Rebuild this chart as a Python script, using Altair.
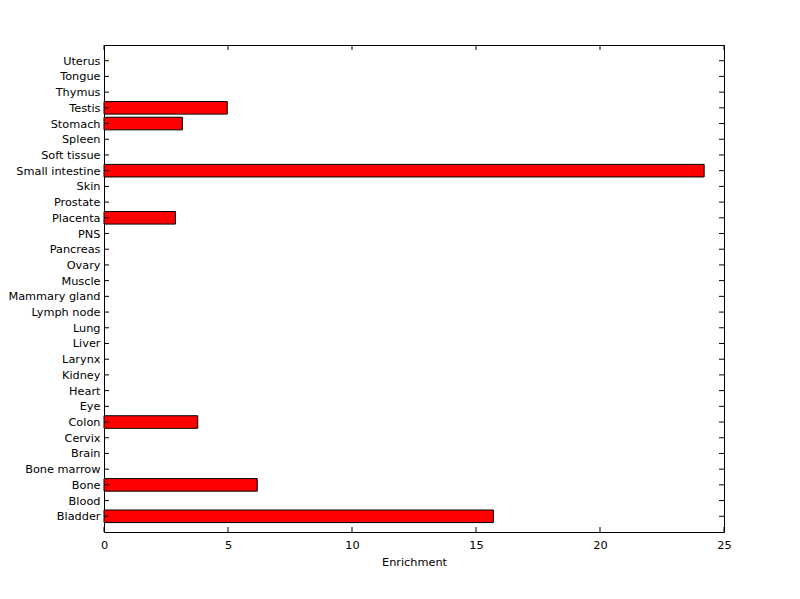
import altair as alt
import pandas as pd

# bottom -> top
tissues = ["Bladder", "Blood", "Bone", "Bone marrow", "Brain", "Cervix", "Colon", "Eye",
           "Heart", "Kidney", "Larynx", "Liver", "Lung", "Lymph node", "Mammary gland",
           "Muscle", "Ovary", "Pancreas", "PNS", "Placenta", "Prostate", "Skin",
           "Small intestine", "Soft tissue", "Spleen", "Stomach", "Testis", "Thymus",
           "Tongue", "Uterus"]
enrichment = [15.7, 0, 6.18, 0, 0, 0, 3.78, 0,
              0, 0, 0, 0, 0, 0, 0,
              0, 0, 0, 0, 2.88, 0, 0,
              24.2, 0, 0, 3.16, 4.97, 0,
              0, 0]
x_ticks = [0, 5, 10, 15, 20, 25]

W, H = 620, 487
FONT = "DejaVu Sans"
FS = 11.3

df = pd.DataFrame({"tissue": tissues, "value": enrichment})
tdf = pd.DataFrame({"t": x_ticks})

order_top_down = list(reversed(tissues))
yscale = alt.Scale(domain=order_top_down, paddingInner=0.2, paddingOuter=0.6)
xscale = alt.Scale(domain=[0, 25], nice=False, zero=True)

yaxis = alt.Axis(ticks=False, domain=False, grid=False, title=None,
                 labelFont=FONT, labelFontSize=FS, labelColor="black",
                 labelPadding=4, labelOffset=1)
xaxis = alt.Axis(values=x_ticks, ticks=False, domain=False, grid=False,
                 title="Enrichment", titleFont=FONT, titleFontSize=FS,
                 titleFontWeight="normal", titleColor="black", titlePadding=6,
                 labelFont=FONT, labelFontSize=FS, labelColor="black",
                 labelPadding=7, labelFlush=False, format="d")

bars = alt.Chart(df).transform_filter(alt.datum.value > 0).mark_bar(
    color="#ff0000", stroke="black", strokeWidth=1
).encode(
    y=alt.Y("tissue:N", sort=order_top_down, scale=yscale, axis=yaxis),
    x=alt.X("value:Q", scale=xscale, axis=xaxis),
)

ytick_left = alt.Chart(df).mark_rule(color="black", strokeWidth=1).encode(
    y=alt.Y("tissue:N", sort=order_top_down, scale=yscale, axis=yaxis),
    x=alt.value(0), x2=alt.value(5),
)
ytick_right = alt.Chart(df).mark_rule(color="black", strokeWidth=1).encode(
    y=alt.Y("tissue:N", sort=order_top_down, scale=yscale, axis=yaxis),
    x=alt.value(W - 5), x2=alt.value(W),
)
xtick_bottom = alt.Chart(tdf).mark_rule(color="black", strokeWidth=1).encode(
    x=alt.X("t:Q", scale=xscale, axis=xaxis),
    y=alt.value(H - 5), y2=alt.value(H),
)
xtick_top = alt.Chart(tdf).mark_rule(color="black", strokeWidth=1).encode(
    x=alt.X("t:Q", scale=xscale, axis=xaxis),
    y=alt.value(0), y2=alt.value(5),
)

chart = alt.layer(bars, ytick_left, ytick_right, xtick_bottom, xtick_top).properties(
    width=W, height=H,
    autosize="none",
    padding={"left": 96, "top": 37, "right": 60, "bottom": 50},
    background="white",
).configure_view(stroke="black", strokeWidth=1)

chart.save("out.html", embed_options={"renderer": "svg", "actions": False})
